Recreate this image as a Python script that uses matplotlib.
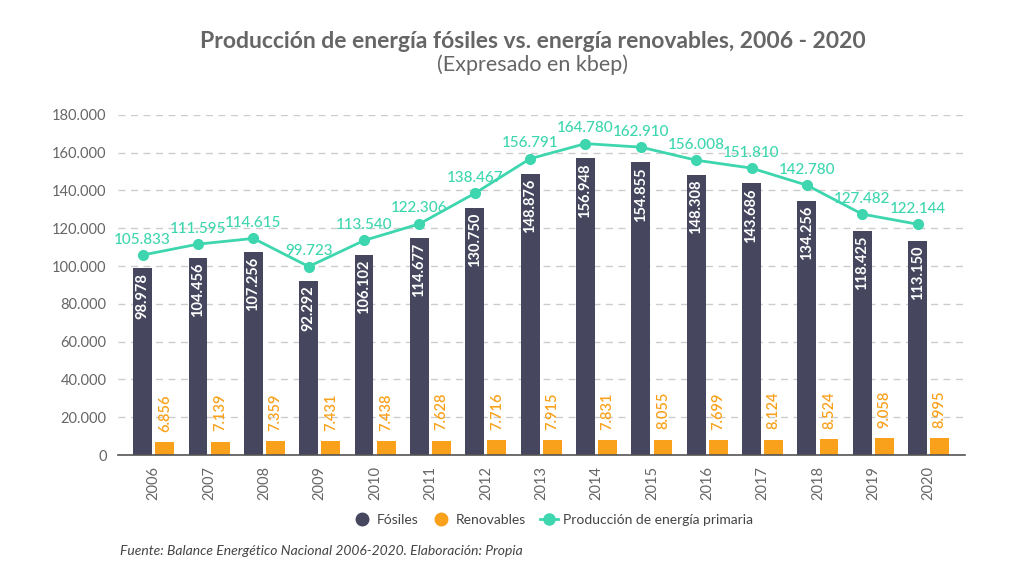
import matplotlib
matplotlib.use("Agg")
import matplotlib.pyplot as plt
import numpy as np
from matplotlib.lines import Line2D

plt.rcParams['font.family'] = ['Lato', 'DejaVu Sans']

years = ["2006", "2007", "2008", "2009", "2010", "2011", "2012", "2013",
         "2014", "2015", "2016", "2017", "2018", "2019", "2020"]
fosiles = [98978, 104456, 107256, 92292, 106102, 114677, 130750, 148876,
           156948, 154855, 148308, 143686, 134256, 118425, 113150]
renovables = [6856, 7139, 7359, 7431, 7438, 7628, 7716, 7915,
              7831, 8055, 7699, 8124, 8524, 9058, 8995]
primaria = [105833, 111595, 114615, 99723, 113540, 122306, 138467, 156791,
            164780, 162910, 156008, 151810, 142780, 127482, 122144]

c_fos = "#46475e"
c_ren = "#f9a11b"
c_line = "#3dd6ae"
c_text = "#666666"

def fmt(v):
    return f"{v:,}".replace(",", ".")

fig = plt.figure(figsize=(10.24, 5.86), dpi=100)
ax = fig.add_axes([0.115, 0.2235, 0.827, 0.5805])

x = np.arange(len(years))
w = 0.34
off = 0.2
ax.bar(x - off, fosiles, width=w, color=c_fos, zorder=3)
ax.bar(x + off, renovables, width=w, color=c_ren, zorder=3)
ax.plot(x - off, primaria, color=c_line, lw=2, marker='o', ms=7, zorder=4)

for xi, v in zip(x, fosiles):
    ax.text(xi - off, v - 2500, fmt(v), rotation=90, ha='center', va='top',
            color='white', fontsize=10.5, fontweight='bold', zorder=5)
for xi, v in zip(x, renovables):
    ax.text(xi + off, v + 5500, fmt(v), rotation=90, ha='center', va='bottom',
            color=c_ren, fontsize=10.5, fontweight='semibold', zorder=5)
for xi, v in zip(x, primaria):
    ax.text(xi - off, v + 4500, fmt(v), ha='center', va='bottom',
            color=c_line, fontsize=11, fontweight='medium', zorder=5)

ax.set_xlim(-0.65, 14.65)
ax.set_ylim(0, 180000)
ax.set_yticks(np.arange(0, 180001, 20000))
ax.set_yticklabels([fmt(v) for v in range(0, 180001, 20000)], color=c_text, fontsize=10.5)
ax.set_xticks(x)
ax.set_xticklabels(years, rotation=90, color=c_text, fontsize=10.5)
ax.tick_params(axis='both', length=0, pad=8)
ax.yaxis.grid(True, color='#cccccc', linestyle=(0, (5, 4)), lw=1, zorder=0)
for s in ['top', 'right', 'left']:
    ax.spines[s].set_visible(False)
ax.spines['bottom'].set_color('#555555')
ax.spines['bottom'].set_linewidth(1.2)
ax.spines['bottom'].set_zorder(6)

fig.text(0.52, 0.93, "Producción de energía fósiles vs. energía renovables, 2006 - 2020",
         ha='center', va='center', fontsize=16.5, fontweight='bold', color=c_text)
fig.text(0.52, 0.889, "(Expresado en kbep)", ha='center', va='center',
         fontsize=15.5, fontweight='normal', color=c_text)

handles = [
    Line2D([], [], marker='o', ls='none', color=c_fos, ms=9),
    Line2D([], [], marker='o', ls='none', color=c_ren, ms=9),
    Line2D([], [], marker='o', color=c_line, lw=2, ms=8),
]
leg = fig.legend(handles, ["Fósiles", "Renovables", "Producción de energía primaria"],
                 loc='center', bbox_to_anchor=(0.54, 0.113), ncol=3, frameon=False,
                 fontsize=10, handlelength=1.3, handletextpad=0.4, columnspacing=1.0)
for t in leg.get_texts():
    t.set_color('#444444')

fig.text(0.117, 0.06, "Fuente: Balance Energético Nacional 2006-2020. Elaboración: Propia",
         ha='left', va='center', fontsize=10, style='italic', color='#444444')

fig.savefig("out.png", dpi=100)
